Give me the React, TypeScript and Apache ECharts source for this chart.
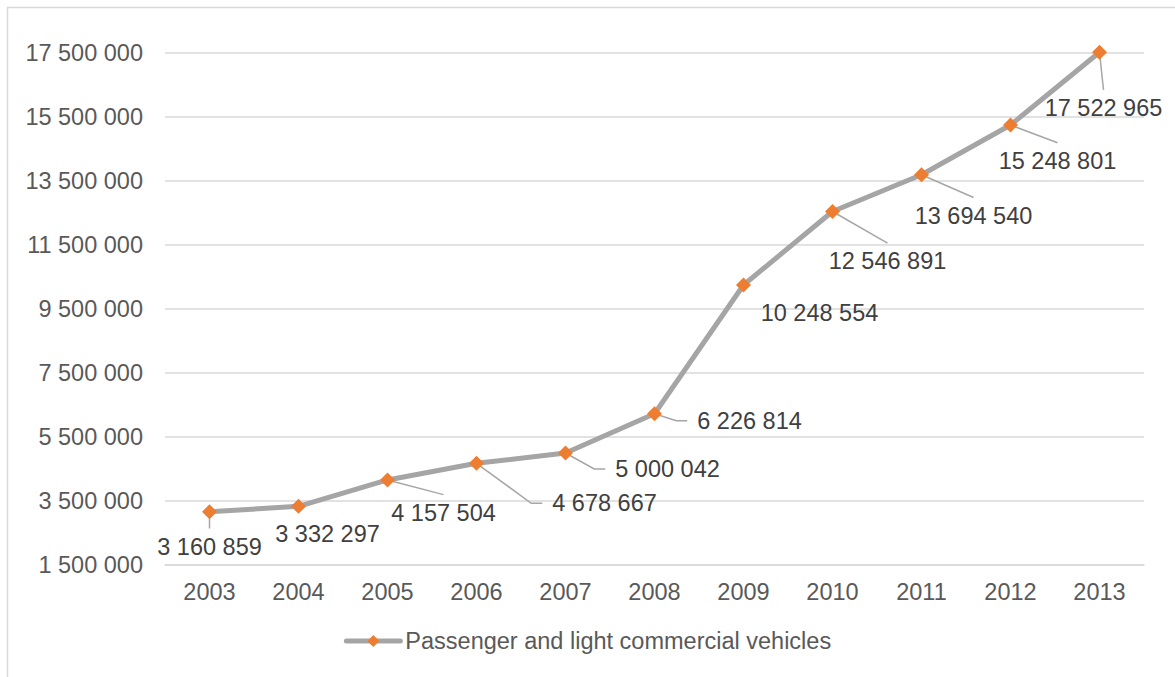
import React, { useEffect, useRef } from "react";
import * as echarts from "echarts";

// Registrations of passenger and light commercial vehicles, 2003–2013
const years = ["2003", "2004", "2005", "2006", "2007", "2008", "2009", "2010", "2011", "2012", "2013"];
const vehicles = [
  3160859, 3332297, 4157504, 4678667, 5000042, 6226814, 10248554, 12546891, 13694540, 15248801, 17522965,
];
const seriesName = "Passenger and light commercial vehicles";

// Value axis range and step
const yMin = 1500000;
const yMax = 17500000;
const yStep = 2000000;

// Manually placed data labels: offset (px) of each label centre from its marker
const labelOffsets: [number, number][] = [
  [0, 35], [29, 28], [56, 33], [128, 40], [102, 16], [95, 7],
  [76, 28], [55, 50], [52, 41], [47, 36], [4, 56],
];
// Whether each label gets a leader line back to its marker
const leaderShown = [true, false, true, true, true, true, false, true, true, true, true];

const spaced = (n: number) => String(n).replace(/\B(?=(\d{3})+(?!\d))/g, " ");

const FS = 23.5;
// Width of a label set in Liberation Sans (digits 0.556em, space 0.278em)
const labelWidth = (s: string) =>
  [...s].reduce((w, ch) => w + (ch === " " ? 0.278 : 0.556), 0) * FS;

export default function App() {
  const ref = useRef<HTMLDivElement>(null);

  useEffect(() => {
    if (!ref.current) return;
    const chart = echarts.init(ref.current, null, { renderer: "svg" });
    const font = "Liberation Sans, Arial, sans-serif";

    // Leader lines from each marker to its moved label
    const renderLeader = (params: any, api: any) => {
      const i = params.dataIndex;
      if (!leaderShown[i]) return null;
      const [mx, my] = api.coord([api.value(0), api.value(1)]);
      const [dx, dy] = labelOffsets[i];
      const w = labelWidth(spaced(vehicles[i]));
      const cx = mx + dx;
      const cy = my + dy;
      const left = cx - w / 2;
      let points: number[][];
      if (dx - w / 2 > 20) {
        // label to the right: elbow into its left side
        const endX = left - 10;
        points = [[mx, my], [endX - 11, cy], [endX, cy]];
      } else {
        // label below: straight to its top centre
        points = [[mx, my], [cx, cy - FS * 0.78]];
      }
      return {
        type: "polyline",
        shape: { points },
        style: { stroke: "#a6a6a6", lineWidth: 1.5, fill: null },
        silent: true,
      };
    };

    chart.setOption({
      animation: false,
      textStyle: { fontFamily: font },
      graphic: [
        {
          type: "rect",
          shape: { x: 7.5, y: 7.5, width: 1200, height: 700 },
          style: { fill: "none", stroke: "#d9d9d9", lineWidth: 1.5 },
          silent: true,
        },
      ],
      grid: { left: 165, right: 31, top: 53, bottom: 112, containLabel: false },
      legend: {
        bottom: 19,
        left: "center",
        itemWidth: 54,
        itemHeight: 15,
        itemGap: 10,
        lineStyle: { width: 5, color: "#a5a5a5", cap: "round" },
        textStyle: { fontSize: FS, color: "#595959", fontFamily: font },
        data: [seriesName],
      },
      xAxis: {
        type: "category",
        data: years,
        boundaryGap: true,
        axisLine: { lineStyle: { color: "#d9d9d9", width: 1.5 } },
        axisTick: { show: false },
        axisLabel: { fontSize: FS, color: "#595959", margin: 15, fontFamily: font },
      },
      yAxis: {
        type: "value",
        min: yMin,
        max: yMax,
        interval: yStep,
        axisLine: { show: false },
        axisTick: { show: false },
        splitLine: { lineStyle: { color: "#d9d9d9", width: 1.5 } },
        axisLabel: {
          fontSize: FS,
          color: "#595959",
          margin: 22,
          fontFamily: font,
          formatter: (v: number) => spaced(v),
        },
      },
      series: [
        {
          name: "leaders",
          type: "custom",
          clip: false,
          z: 2,
          data: vehicles.map((v, i) => [i, v]),
          renderItem: renderLeader,
          silent: true,
        },
        {
          name: seriesName,
          type: "line",
          clip: false,
          data: vehicles,
          symbol: "diamond",
          symbolSize: 15,
          itemStyle: { color: "#ed7d31" },
          lineStyle: { color: "#a5a5a5", width: 5 },
          label: {
            show: true,
            position: "inside",
            fontSize: FS,
            color: "#404040",
            fontFamily: font,
            formatter: (p: any) => spaced(p.value),
          },
          labelLayout: (p: any) => ({
            dx: labelOffsets[p.dataIndex][0],
            dy: labelOffsets[p.dataIndex][1],
          }),
          z: 3,
        },
      ],
    });

    return () => chart.dispose();
  }, []);

  return (
    <div
      ref={ref}
      style={{ position: "fixed", left: 0, top: 0, width: 1175, height: 677, background: "#fff" }}
    />
  );
}
